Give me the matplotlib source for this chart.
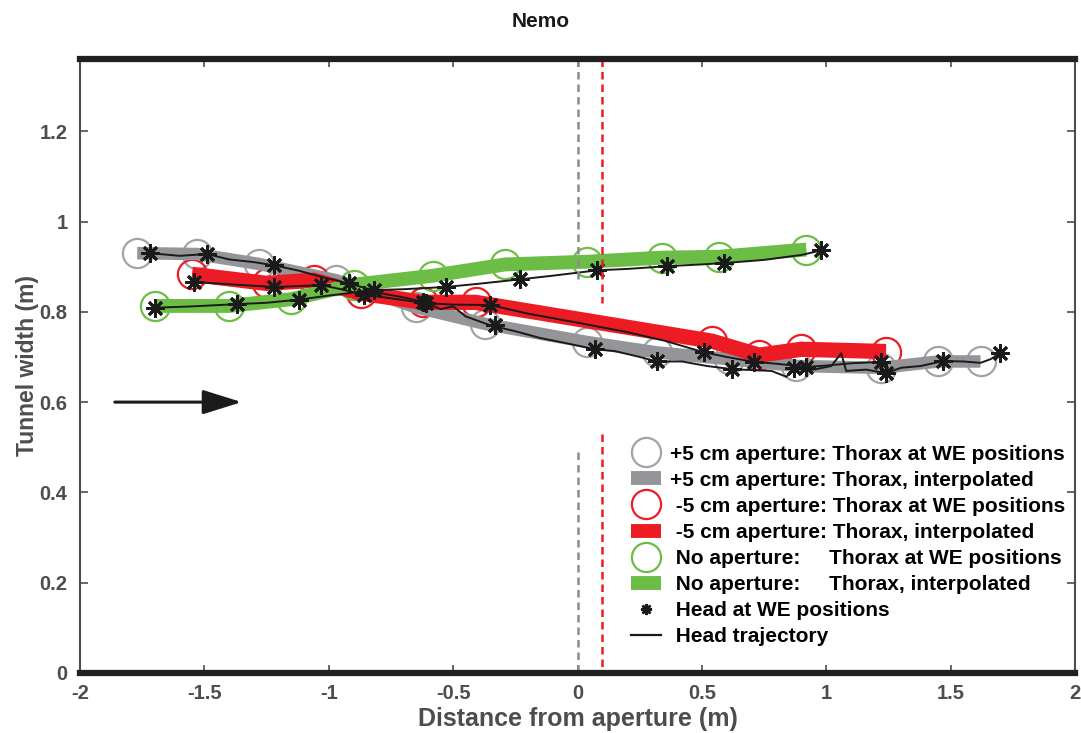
import matplotlib
matplotlib.use("Agg")
import matplotlib.pyplot as plt
from matplotlib.lines import Line2D

plt.rcParams["font.family"] = ["Liberation Sans", "DejaVu Sans"]
plt.rcParams["font.weight"] = "bold"

GREY_C, GREY_B = "#a3a3a5", "#939598"
RED = "#ed1c24"
GREEN = "#6cbd45"
AXC = "#4d4d4f"

# +5 cm aperture: thorax at WE positions
plus_x = [-1.77, -1.53, -1.28, -0.97, -0.65, -0.37, 0.04, 0.32, 0.61, 0.88, 1.22, 1.45, 1.62]
plus_y = [0.930, 0.928, 0.906, 0.870, 0.810, 0.773, 0.733, 0.710, 0.695, 0.680, 0.676, 0.690, 0.690]
# -5 cm aperture: thorax at WE positions
minus_x = [-1.55, -1.25, -1.06, -0.87, -0.62, -0.41, 0.54, 0.73, 0.90, 1.24]
minus_y = [0.883, 0.863, 0.870, 0.841, 0.821, 0.821, 0.735, 0.704, 0.717, 0.712]
# no aperture: thorax at WE positions
none_x = [-1.70, -1.40, -1.15, -0.90, -0.58, -0.29, 0.04, 0.34, 0.57, 0.92]
none_y = [0.813, 0.813, 0.828, 0.860, 0.880, 0.905, 0.911, 0.920, 0.922, 0.938]

# head at WE positions
plus_hx = [-1.72, -1.49, -1.22, -0.92, -0.62, -0.33, 0.07, 0.32, 0.62, 0.87, 1.24, 1.47, 1.70]
plus_hy = [0.930, 0.928, 0.903, 0.863, 0.822, 0.770, 0.717, 0.690, 0.673, 0.676, 0.664, 0.691, 0.708]
minus_hx = [-1.54, -1.22, -1.03, -0.86, -0.61, -0.35, 0.51, 0.71, 0.92, 1.22]
minus_hy = [0.866, 0.855, 0.859, 0.838, 0.819, 0.815, 0.710, 0.689, 0.678, 0.689]
none_hx = [-1.70, -1.37, -1.12, -0.82, -0.53, -0.23, 0.08, 0.36, 0.59, 0.98]
none_hy = [0.809, 0.817, 0.827, 0.848, 0.855, 0.872, 0.892, 0.901, 0.908, 0.936]

# head trajectories
plus_tx = [-1.72, -1.60, -1.49, -1.40, -1.30, -1.22, -1.12, -1.02, -0.92, -0.85, -0.78, -0.70,
           -0.62, -0.55, -0.50, -0.45, -0.35, -0.25, -0.15, -0.05, 0.07, 0.15, 0.25, 0.32,
           0.42, 0.52, 0.62, 0.70, 0.78, 0.84, 0.87, 0.95, 1.02, 1.06, 1.08, 1.16, 1.24,
           1.30, 1.38, 1.47, 1.55, 1.62, 1.66, 1.70]
plus_ty = [0.930, 0.924, 0.928, 0.916, 0.910, 0.903, 0.891, 0.876, 0.863, 0.852, 0.840, 0.832,
           0.822, 0.806, 0.812, 0.790, 0.770, 0.757, 0.742, 0.731, 0.717, 0.713, 0.700, 0.690,
           0.690, 0.680, 0.673, 0.671, 0.669, 0.656, 0.676, 0.672, 0.680, 0.708, 0.669, 0.672,
           0.664, 0.676, 0.680, 0.691, 0.690, 0.687, 0.695, 0.708]
minus_tx = [-1.54, -1.40, -1.22, -1.12, -1.03, -0.95, -0.86, -0.75, -0.61, -0.50, -0.35, -0.20,
            0.00, 0.20, 0.35, 0.51, 0.60, 0.71, 0.80, 0.92, 1.00, 1.10, 1.22]
minus_ty = [0.866, 0.861, 0.855, 0.857, 0.859, 0.850, 0.838, 0.830, 0.819, 0.816, 0.815, 0.796,
            0.776, 0.755, 0.736, 0.710, 0.700, 0.689, 0.685, 0.678, 0.681, 0.686, 0.689]
none_tx = [-1.70, -1.55, -1.37, -1.25, -1.12, -1.00, -0.82, -0.70, -0.53, -0.40, -0.23, -0.10,
           0.08, 0.20, 0.36, 0.50, 0.59, 0.75, 0.90, 0.98]
none_ty = [0.809, 0.812, 0.817, 0.820, 0.827, 0.836, 0.848, 0.850, 0.855, 0.862, 0.872, 0.880,
           0.892, 0.895, 0.901, 0.905, 0.908, 0.915, 0.926, 0.936]

labels = ["+5 cm aperture: Thorax at WE positions",
          "+5 cm aperture: Thorax, interpolated",
          " -5 cm aperture: Thorax at WE positions",
          " -5 cm aperture: Thorax, interpolated",
          " No aperture:     Thorax at WE positions",
          " No aperture:     Thorax, interpolated",
          " Head at WE positions",
          " Head trajectory"]

fig = plt.figure(figsize=(10.81, 7.33), dpi=100)
ax = fig.add_axes([0.074, 0.0819, 0.9205, 0.8376])

circ = dict(marker="o", ls="none", ms=21, mfc="none", mew=1.6)
ax.plot(plus_x, plus_y, mec=GREY_C, **circ)
ax.plot(minus_x, minus_y, mec=RED, **circ)
ax.plot(none_x, none_y, mec=GREEN, **circ)

ax.plot(plus_x, plus_y, color=GREY_B, lw=9, solid_capstyle="butt", solid_joinstyle="miter")
ax.plot(minus_x, minus_y, color=RED, lw=11, solid_capstyle="butt", solid_joinstyle="miter")
ax.plot(none_x, none_y, color=GREEN, lw=10, solid_capstyle="butt", solid_joinstyle="miter")

for tx, ty in [(plus_tx, plus_ty), (minus_tx, minus_ty), (none_tx, none_ty)]:
    ax.plot(tx, ty, color="#1a1a1a", lw=1.4)
star = dict(marker=(8, 2, 0), ls="none", ms=13, mew=2, color="#1a1a1a")
for hx, hy in [(plus_hx, plus_hy), (minus_hx, minus_hy), (none_hx, none_hy)]:
    ax.plot(hx, hy, **star)

# aperture positions
ax.plot([0, 0], [1.36, 0.87], ls=(0, (3, 2)), color="#8c8c8c", lw=1.8)
ax.plot([0, 0], [0.49, 0], ls=(0, (3, 2)), color="#8c8c8c", lw=1.8)
ax.plot([0.1, 0.1], [1.36, 0.82], ls=(0, (3, 2)), color=RED, lw=1.8)
ax.plot([0.1, 0.1], [0.53, 0], ls=(0, (3, 2)), color=RED, lw=1.8)

ax.annotate("", xy=(-1.35, 0.6), xytext=(-1.86, 0.6),
            arrowprops=dict(arrowstyle="-|>,head_length=2.4,head_width=0.75",
                            color="#1a1a1a", lw=2.2, shrinkA=0, shrinkB=0))

handles = [Line2D([], [], marker="o", ls="none", ms=21, mfc="none", mew=1.6, mec=GREY_C),
           Line2D([], [], color=GREY_B, lw=10, solid_capstyle="butt"),
           Line2D([], [], marker="o", ls="none", ms=21, mfc="none", mew=1.6, mec=RED),
           Line2D([], [], color=RED, lw=10, solid_capstyle="butt"),
           Line2D([], [], marker="o", ls="none", ms=21, mfc="none", mew=1.6, mec=GREEN),
           Line2D([], [], color=GREEN, lw=10, solid_capstyle="butt"),
           Line2D([], [], marker=(8, 2, 0), ls="none", ms=8, mew=1.8, color="#1a1a1a"),
           Line2D([], [], color="#1a1a1a", lw=1.6)]
ax.legend(handles, labels, loc="upper left", bbox_to_anchor=(0.554, 0.372),
          frameon=False, borderaxespad=0, fontsize=15, handlelength=1.45,
          handletextpad=0.4, labelspacing=0.34, borderpad=0)

ax.set_xlim(-2, 2)
ax.set_ylim(0, 1.36)
ax.set_xticks([-2, -1.5, -1, -0.5, 0, 0.5, 1, 1.5, 2])
ax.set_xticklabels(["-2", "-1.5", "-1", "-0.5", "0", "0.5", "1", "1.5", "2"])
ax.set_yticks([0, 0.2, 0.4, 0.6, 0.8, 1, 1.2])
ax.set_yticklabels(["0", "0.2", "0.4", "0.6", "0.8", "1", "1.2"])
ax.tick_params(direction="in", length=6, width=1.2, color=AXC, labelcolor=AXC,
               labelsize=14.5, top=True, right=True)
ax.tick_params(axis="x", pad=8)
ax.tick_params(axis="y", pad=9)
for s in ["top", "bottom"]:
    ax.spines[s].set_linewidth(4.5)
    ax.spines[s].set_color("#231f20")
for s in ["left", "right"]:
    ax.spines[s].set_linewidth(1.5)
    ax.spines[s].set_color(AXC)

ax.set_xlabel("Distance from aperture (m)", fontsize=18, color=AXC,
              fontweight="bold", labelpad=3)
ax.set_ylabel("Tunnel width (m)", fontsize=16.5, color=AXC,
              fontweight="bold", labelpad=0)
fig.text(0.5, 0.97, "Nemo", fontsize=15, color="#1a1a1a", fontweight="bold",
         ha="center", va="center")

fig.savefig("out.png", dpi=100)
